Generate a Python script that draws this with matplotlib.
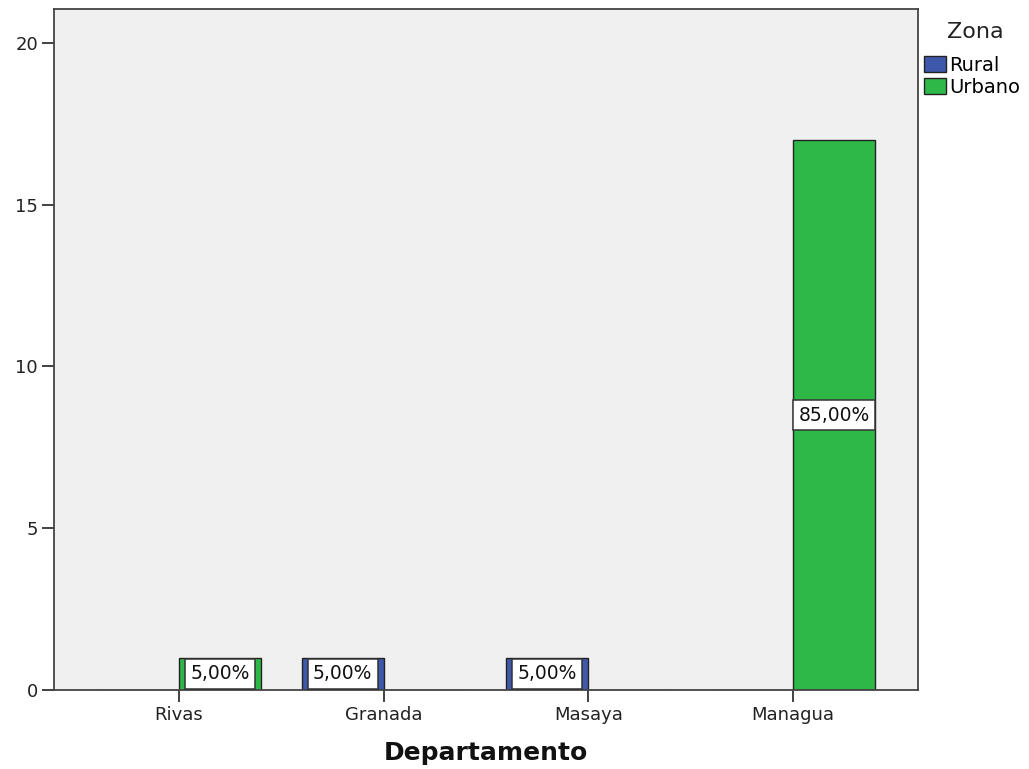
import matplotlib
matplotlib.use("Agg")
import matplotlib.pyplot as plt
import numpy as np

categories = ["Rivas", "Granada", "Masaya", "Managua"]
rural = [0, 1, 1, 0]
urbano = [1, 0, 0, 17]
rural_labels = ["", "5,00%", "5,00%", ""]
urbano_labels = ["5,00%", "", "", "85,00%"]
yticks = [0, 5, 10, 15, 20]

plt.rcParams['font.family'] = ['DejaVu Sans']

fig = plt.figure(figsize=(10.29, 7.69), dpi=100)
ax = fig.add_axes([54/1029, 1-690/769, (918-54)/1029, (690-9)/769])
ax.set_facecolor("#F0F0F0")

x = np.arange(len(categories))
w = 0.40
c_rural = "#3E58AC"
c_urb = "#2EB848"
b1 = ax.bar(x - w/2, rural, width=w, color=c_rural, edgecolor="#222222", linewidth=1.0, label="Rural")
b2 = ax.bar(x + w/2, urbano, width=w, color=c_urb, edgecolor="#222222", linewidth=1.0, label="Urbano")

box = dict(boxstyle="square,pad=0.28", facecolor="white", edgecolor="#333333", linewidth=1.1)
for xi, v, lab in zip(x - w/2, rural, rural_labels):
    if lab:
        ax.text(xi, v/2, lab, ha="center", va="center", fontsize=13.5, bbox=box, color="#111111")
for xi, v, lab in zip(x + w/2, urbano, urbano_labels):
    if lab:
        ax.text(xi, v/2, lab, ha="center", va="center", fontsize=13.5, bbox=box, color="#111111")

ax.set_xlim(-0.61, 3.61)
ax.set_ylim(0, 21.05)
ax.set_xticks(x)
ax.set_xticklabels(categories, fontsize=13)
ax.set_yticks(yticks)
ax.set_yticklabels([str(t) for t in yticks], fontsize=13)
ax.tick_params(axis="both", direction="out", length=8.5, width=1.3, pad=3,
               color="#333333", labelcolor="#222222")
for s in ax.spines.values():
    s.set_color("#444444")
    s.set_linewidth(1.3)
ax.set_xlabel("Departamento", fontsize=18, fontweight="bold", labelpad=12, color="#111111")

fig.text(975/1029, 1-32/769, "Zona", ha="center", va="center", fontsize=16, color="#222222")
leg = fig.legend(handles=[b1, b2], labels=["Rural", "Urbano"], loc="upper left",
                 bbox_to_anchor=(922/1029, 1-54/769), frameon=False, fontsize=14,
                 handlelength=1.13, handleheight=0.87, handletextpad=0.15, labelspacing=0.16,
                 borderaxespad=0, borderpad=0.1)

fig.savefig("out.png", dpi=100, facecolor="white")
